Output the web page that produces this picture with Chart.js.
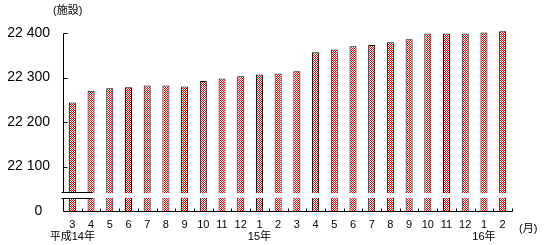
<!DOCTYPE html>
<html>
<head>
<meta charset="utf-8">
<script src="https://cdn.jsdelivr.net/npm/chart.js@4.4.0/dist/chart.umd.min.js"></script>
<style>
  html, body { margin: 0; padding: 0; background: #fff; }
</style>
</head>
<body>
<canvas id="facilityChart" width="547" height="245"></canvas>
<script>
// month labels, 平成14年3月 .. 16年2月
const months = ['3', '4', '5', '6', '7', '8', '9', '10', '11', '12',
                '1', '2', '3', '4', '5', '6', '7', '8', '9', '10', '11', '12',
                '1', '2'];
const yearLabels = ['平成14年', '', '', '', '', '', '', '', '', '',
                    '15年', '', '', '', '', '', '', '', '', '', '', '',
                    '16年', ''];
// number of facilities
const facilities = [22244, 22270, 22276, 22278, 22282, 22282, 22280, 22292, 22298, 22303,
                    22307, 22309, 22314, 22357, 22363, 22370, 22373, 22379, 22386, 22399, 22399, 22399,
                    22401, 22404];
const yTickValues = [22000, 22100, 22200, 22300, 22400];
const yTickLabels = ['0  ', '22 100', '22 200', '22 300', '22 400'];

const categories = months.map((m, i) => yearLabels[i] ? [m, yearLabels[i]] : m);

// red / white checker fill
const patCanvas = document.createElement('canvas');
patCanvas.width = 2;
patCanvas.height = 2;
const pctx = patCanvas.getContext('2d');
pctx.fillStyle = '#ffffff';
pctx.fillRect(0, 0, 2, 2);
pctx.fillStyle = '#ff0000';
pctx.fillRect(0, 0, 1, 1);
pctx.fillRect(1, 1, 1, 1);
const redCheck = pctx.createPattern(patCanvas, 'repeat');

const FONT = '"Liberation Sans", "Noto Sans CJK JP", sans-serif';

// axes with the break near the bottom
const brokenAxis = {
    id: 'brokenAxis',
    afterDatasetsDraw(chart) {
        const { ctx, chartArea: a, scales: { x, y } } = chart;
        const left = Math.round(a.left) + 0.5;
        const right = Math.round(a.right) + 0.5;
        const base = Math.round(y.getPixelForValue(22000)) + 0.5;
        const brTop = Math.round(y.getPixelForValue(22043)) + 0.5;
        const brBot = Math.round(y.getPixelForValue(22029)) + 0.5;

        ctx.save();
        // gap through the bars
        ctx.fillStyle = '#fff';
        ctx.fillRect(a.left - 3, brTop + 0.5, a.right - a.left + 4, brBot - brTop - 1);

        ctx.strokeStyle = '#000';
        ctx.lineWidth = 1;
        ctx.beginPath();
        // y axis, two pieces
        ctx.moveTo(left, Math.round(a.top) + 0.5);
        ctx.lineTo(left, brTop);
        ctx.moveTo(left, brBot);
        ctx.lineTo(left, base);
        // break marks
        ctx.moveTo(left - 2, brTop);
        ctx.lineTo(left + 29, brTop);
        ctx.moveTo(left - 2, brBot);
        ctx.lineTo(left + 29, brBot);
        // y ticks (inside)
        yTickValues.slice(1).forEach(v => {
            const py = Math.round(y.getPixelForValue(v)) + 0.5;
            ctx.moveTo(left, py);
            ctx.lineTo(left + 4, py);
        });
        // x axis
        ctx.moveTo(left, base);
        ctx.lineTo(right, base);
        // x ticks between categories (inside)
        const step = (a.right - a.left) / months.length;
        for (let i = 1; i <= months.length; i++) {
            const px = Math.round(a.left + step * i) + 0.5;
            ctx.moveTo(px, base);
            ctx.lineTo(px, base - 3);
        }
        ctx.stroke();

        // unit labels
        ctx.fillStyle = '#000';
        ctx.font = '11px ' + FONT;
        ctx.textBaseline = 'middle';
        ctx.textAlign = 'left';
        ctx.fillText('(施設)', 53, 11);
        ctx.fillText('(月)', 519, 229);
        ctx.restore();
    }
};

new Chart(document.getElementById('facilityChart'), {
    type: 'bar',
    data: {
        labels: categories,
        datasets: [{
            data: facilities,
            backgroundColor: redCheck,
            borderColor: '#000',
            borderWidth: 1,
            barPercentage: 0.375,
            categoryPercentage: 1,
            clip: { left: 0, top: 5, right: 0, bottom: 0 }
        }]
    },
    options: {
        responsive: false,
        animation: false,
        layout: {
            padding: { top: 33, right: 35, left: 0, bottom: 0 }
        },
        plugins: {
            legend: { display: false },
            tooltip: { enabled: false }
        },
        scales: {
            x: {
                grid: { display: false, drawTicks: false },
                border: { display: false },
                ticks: {
                    color: '#000',
                    padding: 8,
                    maxRotation: 0,
                    autoSkip: false,
                    font: { family: FONT, size: 11, lineHeight: 1.1 }
                },
                afterFit: (axis) => { axis.height = 34; }
            },
            y: {
                min: 22000,
                max: 22400,
                grid: { display: false, drawTicks: false },
                border: { display: false },
                afterBuildTicks: (axis) => {
                    axis.ticks = yTickValues.map(v => ({ value: v }));
                },
                ticks: {
                    color: '#000',
                    padding: 13,
                    font: { family: FONT, size: 14 },
                    callback: (v) => yTickLabels[yTickValues.indexOf(v)]
                },
                afterFit: (axis) => { axis.width = 63; }
            }
        }
    },
    plugins: [brokenAxis]
});
</script>
</body>
</html>
